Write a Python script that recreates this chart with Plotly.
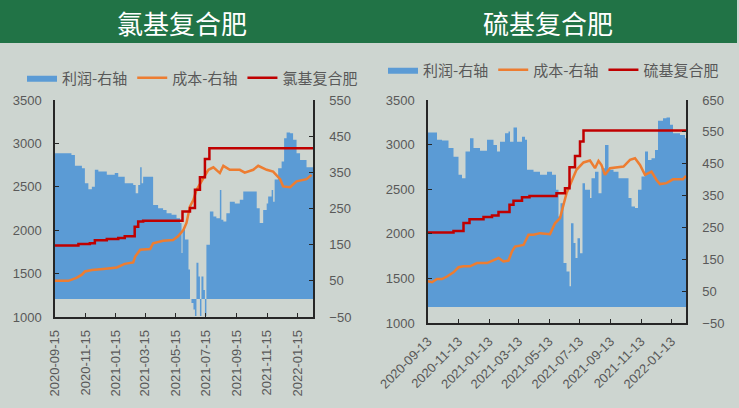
import plotly.graph_objects as go

# ---------------- Left panel: 氯基复合肥 ----------------
l_profit_dates = ["2020-09-15","2020-10-15","2020-10-18","2020-10-25","2020-11-08","2020-11-14","2020-11-21","2020-11-28",
    "2020-12-04","2020-12-11","2020-12-28","2021-01-13","2021-01-20","2021-02-02","2021-02-19","2021-02-24","2021-03-01",
    "2021-03-05","2021-03-08","2021-03-11","2021-03-28","2021-03-31","2021-04-10","2021-04-20","2021-04-27","2021-05-07",
    "2021-05-17","2021-05-24","2021-05-27","2021-05-29","2021-06-03","2021-06-10","2021-06-13","2021-06-16","2021-06-20",
    "2021-06-23","2021-06-26","2021-06-30","2021-07-03","2021-07-06","2021-07-10","2021-07-13","2021-07-16","2021-07-23",
    "2021-07-30","2021-08-05","2021-08-12","2021-08-15","2021-08-19","2021-08-25","2021-09-01","2021-09-11","2021-09-21",
    "2021-09-28","2021-10-15","2021-10-25","2021-10-31","2021-11-07","2021-11-14","2021-11-17","2021-11-24","2021-11-27",
    "2021-11-30","2021-12-07","2021-12-14","2021-12-19","2021-12-24","2021-12-31","2022-01-06","2022-01-13","2022-01-20",
    "2022-02-02","2022-02-15"]
l_profit = [403,403,398,368,361,320,303,310,
    357,352,343,348,338,320,315,292,315,
    364,320,338,338,260,251,246,237,233,
    223,210,127,191,164,81,0,-11,-29,
    -47,100,62,-47,62,25,-47,150,242,
    228,223,301,219,214,237,269,264,274,
    297,297,251,210,246,264,283,301,269,
    330,361,380,444,460,458,440,403,384,
    364,357]

l_cost_dates = ["2020-09-15","2020-10-12","2020-10-28","2020-11-08","2020-11-14","2020-11-28","2020-12-21","2021-01-17",
    "2021-02-02","2021-02-19","2021-02-23","2021-03-05","2021-03-25","2021-03-31","2021-04-20","2021-05-10","2021-05-20",
    "2021-05-31","2021-06-06","2021-06-13","2021-06-20","2021-06-26","2021-07-10","2021-07-20","2021-07-30","2021-08-12",
    "2021-08-19","2021-09-01","2021-09-21","2021-10-01","2021-10-18","2021-10-28","2021-11-14","2021-11-27","2021-12-11",
    "2021-12-17","2021-12-31","2022-01-13","2022-02-02","2022-02-12"]
l_cost = [50,50,58,67,76,80,83,87,
    97,101,117,136,138,154,161,163,173,
    191,210,256,274,301,334,357,364,348,
    368,357,357,349,357,368,357,352,331,
    311,309,325,331,343]

l_price_dates = ["2020-09-15","2020-11-01","2020-11-24","2020-12-04","2020-12-28","2021-01-20","2021-02-02","2021-02-22",
    "2021-03-01","2021-03-11","2021-05-29","2021-06-13","2021-06-23","2021-07-03","2021-07-13","2021-07-22","2022-02-15"]
l_price = [1825,1840,1850,1885,1900,1910,1930,2040,
    2100,2110,2215,2255,2465,2610,2820,2945,2945]

l_ticks = ["2020-09-15","2020-11-15","2021-01-15","2021-03-15","2021-05-15","2021-07-15","2021-09-15","2021-11-15","2022-01-15"]

# ---------------- Right panel: 硫基复合肥 ----------------
r_profit_dates = ["2020-09-13","2020-09-24","2020-10-01","2020-10-11","2020-10-24","2020-11-03","2020-11-13","2020-11-20",
    "2020-11-27","2020-12-06","2020-12-13","2020-12-26","2021-01-05","2021-01-09","2021-01-22","2021-01-29","2021-02-04",
    "2021-02-14","2021-02-21","2021-02-24","2021-03-03","2021-03-10","2021-03-20","2021-03-26","2021-03-30","2021-04-12",
    "2021-04-25","2021-05-09","2021-05-19","2021-05-27","2021-06-01","2021-06-05","2021-06-11","2021-06-17","2021-06-23",
    "2021-06-26","2021-07-01","2021-07-05","2021-07-09","2021-07-14","2021-07-19","2021-07-24","2021-08-03","2021-08-06",
    "2021-08-13","2021-08-20","2021-08-26","2021-09-02","2021-09-09","2021-09-19","2021-09-29","2021-10-09","2021-10-19",
    "2021-10-25","2021-11-01","2021-11-07","2021-11-14","2021-11-21","2021-11-27","2021-12-04","2021-12-11","2021-12-17",
    "2021-12-27","2022-01-03","2022-01-10","2022-01-16","2022-01-30","2022-02-09","2022-02-11"]
r_profit = [548,548,525,523,499,472,415,404,
    488,530,499,491,491,525,509,488,519,
    546,551,519,564,519,535,525,431,425,
    415,425,415,368,284,326,138,112,65,
    263,201,154,216,169,389,368,342,404,
    425,357,436,509,431,425,404,404,342,
    316,311,368,410,488,462,467,493,585,
    593,595,572,546,540,530,509]

r_cost_dates = ["2020-09-13","2020-09-21","2020-10-01","2020-10-11","2020-10-21","2020-11-03","2020-11-13","2020-11-23",
    "2020-12-06","2020-12-20","2021-01-09","2021-01-22","2021-02-01","2021-02-11","2021-02-21","2021-02-28","2021-03-06",
    "2021-03-23","2021-04-02","2021-04-12","2021-04-25","2021-05-15","2021-05-25","2021-06-04","2021-06-11","2021-06-17",
    "2021-06-27","2021-07-07","2021-07-21","2021-08-03","2021-08-13","2021-08-20","2021-08-26","2021-09-02","2021-09-12",
    "2021-09-25","2021-10-09","2021-10-22","2021-11-01","2021-11-11","2021-11-21","2021-12-04","2021-12-14","2021-12-21",
    "2022-01-03","2022-01-16","2022-02-05","2022-02-11"]
r_cost = [81,78,88,88,96,109,125,128,
    128,138,138,148,154,143,146,175,190,
    195,227,227,232,229,263,279,326,357,
    394,431,454,460,436,459,446,415,436,
    439,441,462,467,446,415,425,399,386,
    389,401,401,412]

r_price_dates = ["2020-09-13","2020-11-03","2020-11-23","2020-12-05","2021-01-02","2021-01-19","2021-02-01","2021-02-23",
    "2021-03-03","2021-03-20","2021-04-04","2021-05-28","2021-06-14","2021-06-23","2021-07-04","2021-07-14","2021-07-21",
    "2022-02-11"]
r_price = [2015,2030,2120,2164,2187,2205,2243,2325,
    2370,2410,2425,2455,2511,2746,2873,3034,3157,
    3157]

r_ticks = ["2020-09-13","2020-11-13","2021-01-13","2021-03-13","2021-05-13","2021-07-13","2021-09-13","2021-11-13","2022-01-13"]

BLUE = "#5b9bd5"
ORANGE = "#ed7d31"
RED = "#c00000"
BG = "#cdd5d0"
GREEN = "#217346"
GRAY = "#595959"
FONT = "Noto Sans CJK SC"

W, H = 739, 408

fig = go.Figure()

# left panel: profit & cost on right axis (y, drawn below), price on left axis (y2, overlay drawn on top)
fig.add_trace(go.Scatter(x=l_profit_dates, y=l_profit, name="利润-右轴", mode="lines",
    line=dict(width=0, shape="hv", color=BLUE), fill="tozeroy", fillcolor=BLUE,
    xaxis="x", yaxis="y", legend="legend"))
fig.add_trace(go.Scatter(x=l_cost_dates, y=l_cost, name="成本-右轴", mode="lines",
    line=dict(width=2.5, color=ORANGE), xaxis="x", yaxis="y", legend="legend"))
fig.add_trace(go.Scatter(x=l_price_dates, y=l_price, name="氯基复合肥", mode="lines",
    line=dict(width=2.5, color=RED, shape="hv"), xaxis="x", yaxis="y2", legend="legend"))

# right panel
fig.add_trace(go.Scatter(x=r_profit_dates, y=r_profit, name="利润-右轴", mode="lines",
    line=dict(width=0, shape="hv", color=BLUE), fill="tozeroy", fillcolor=BLUE,
    xaxis="x2", yaxis="y3", legend="legend2"))
fig.add_trace(go.Scatter(x=r_cost_dates, y=r_cost, name="成本-右轴", mode="lines",
    line=dict(width=2.5, color=ORANGE), xaxis="x2", yaxis="y3", legend="legend2"))
fig.add_trace(go.Scatter(x=r_price_dates, y=r_price, name="硫基复合肥", mode="lines",
    line=dict(width=2.5, color=RED, shape="hv"), xaxis="x2", yaxis="y4", legend="legend2"))

def px_x(p):
    return p / W

def px_y(p):
    return 1 - p / H

axis_common = dict(showgrid=False, zeroline=False, showline=True, linecolor="#262626", linewidth=1.5,
                   ticks="inside", ticklen=4, tickcolor="#262626",
                   tickfont=dict(family="Liberation Sans", size=13, color=GRAY), automargin=False)

fig.update_layout(
    width=W, height=H,
    margin=dict(l=0, r=0, t=0, b=0),
    paper_bgcolor=BG, plot_bgcolor=BG,
    showlegend=True,
    xaxis=dict(domain=[px_x(55), px_x(313)], anchor="y", type="date",
               range=["2020-09-15", "2022-02-15"], tickvals=l_ticks, ticktext=l_ticks, tickangle=-90,
               ticklabelstandoff=6, **axis_common),
    yaxis=dict(domain=[px_y(317), px_y(100)], anchor="x", side="right",
               range=[-50, 550], tickvals=[-50, 50, 150, 250, 350, 450, 550],
               ticklabelstandoff=12, **axis_common),
    yaxis2=dict(domain=[px_y(317), px_y(100)], anchor="x", overlaying="y", side="left",
                range=[1000, 3500], dtick=500, ticklabelstandoff=9, **axis_common),
    xaxis2=dict(domain=[px_x(428), px_x(686)], anchor="y3", type="date",
                range=["2020-09-13", "2022-02-11"], tickvals=r_ticks, ticktext=r_ticks, tickangle=-45,
                ticklabelstandoff=4, **axis_common),
    yaxis3=dict(domain=[px_y(323), px_y(100)], anchor="x2", side="right",
                range=[-50, 650], tickvals=[-50, 50, 150, 250, 350, 450, 550, 650],
                ticklabelstandoff=12, **axis_common),
    yaxis4=dict(domain=[px_y(323), px_y(100)], anchor="x2", overlaying="y3", side="left",
                range=[1000, 3500], dtick=500, ticklabelstandoff=9, **axis_common),
    legend=dict(orientation="h", x=px_x(22), y=px_y(78), xanchor="left", yanchor="middle",
                bgcolor="rgba(0,0,0,0)", font=dict(family=FONT, size=15, color=GRAY),
                itemwidth=30, tracegroupgap=0),
    legend2=dict(orientation="h", x=px_x(383), y=px_y(70), xanchor="left", yanchor="middle",
                 bgcolor="rgba(0,0,0,0)", font=dict(family=FONT, size=15, color=GRAY),
                 itemwidth=30, tracegroupgap=0),
    shapes=[dict(type="rect", xref="paper", yref="paper", x0=0, x1=px_x(737), y0=px_y(43), y1=1,
                 fillcolor=GREEN, line=dict(width=0), layer="below")],
    annotations=[
        dict(text="氯基复合肥", xref="paper", yref="paper", x=px_x(182), y=px_y(22), showarrow=False,
             font=dict(family=FONT, size=26, color="white"), xanchor="center", yanchor="middle"),
        dict(text="硫基复合肥", xref="paper", yref="paper", x=px_x(548), y=px_y(22), showarrow=False,
             font=dict(family=FONT, size=26, color="white"), xanchor="center", yanchor="middle"),
    ],
)

fig.write_html("out.html")
